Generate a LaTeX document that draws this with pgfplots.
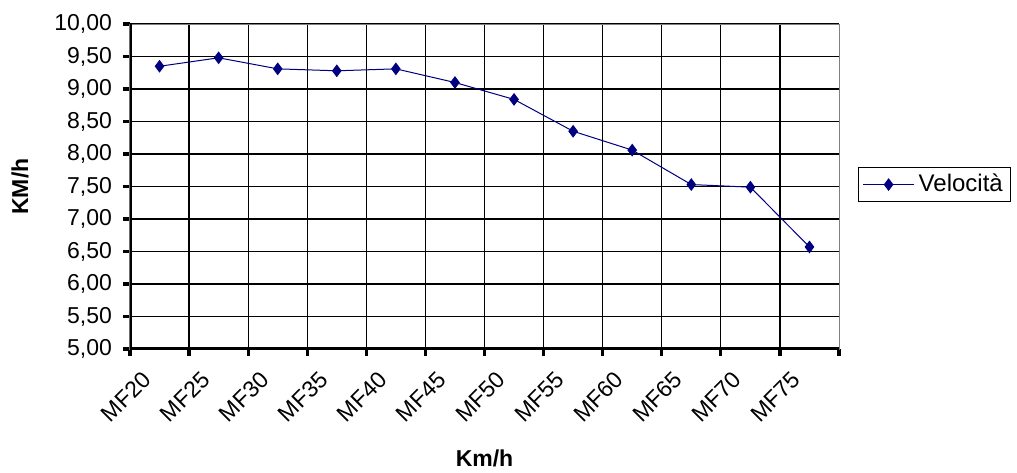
\documentclass[border=0pt]{standalone}
\usepackage{fontspec}
\setmainfont{Liberation Sans}
\usepackage{pgfplots}
\pgfplotsset{compat=1.18}
\definecolor{navy}{RGB}{0,0,128}
\definecolor{framegray}{RGB}{128,128,128}

\begin{document}
\begin{tikzpicture}
\path[use as bounding box] (-65pt,-61.5pt) rectangle (443.5pt,174.5pt);
\begin{axis}[
  at={(0,0)}, anchor=south west,
  scale only axis, width=354.5pt, height=162.5pt,
  xmin=-0.5, xmax=11.5, ymin=5, ymax=10,
  font=\fontsize{11.5}{13}\selectfont,
  axis line style={framegray, line width=0.5pt},
  tick align=outside,
  xtick pos=bottom, ytick pos=left,
  major tick length=3.5pt,
  minor tick length=0pt,
  every tick/.append style={black, line width=1.6pt},
  xtick style={black, line width=1.6pt},
  ytick style={black, line width=1.6pt},
  % category boundaries carry the tick marks
  xtick={-0.5,0.5,...,11.5},
  xticklabels={},
  minor xtick={0.5,1.5,...,10.5},
  xminorgrids=true,
  % category names sit at the centres
  extra x ticks={0,1,...,11},
  extra x tick labels={MF20,MF25,MF30,MF35,MF40,MF45,MF50,MF55,MF60,MF65,MF70,MF75},
  extra x tick style={major tick length=0pt, grid=none},
  xticklabel style={xshift=-4pt, yshift=-11pt, rotate=45, anchor=east, font=\fontsize{11.5}{13}\selectfont},
  ytick={5,5.5,...,10},
  ymajorgrids=true,
  major grid style={black, line width=0.6pt},
  minor grid style={black, line width=0.6pt},
  /pgf/number format/assume math mode=true,
  yticklabel style={xshift=-2pt, /pgf/number format/.cd, fixed, fixed zerofill, precision=2, use comma},
  every axis y label/.style={at={(axis description cs:-0.155,0.5)}, rotate=90, anchor=center, font=\bfseries\fontsize{11.5}{13}\selectfont},
  every axis x label/.style={at={(axis description cs:0.5,-0.338)}, anchor=center, font=\bfseries\fontsize{11.5}{13}\selectfont},
  ylabel={KM/h},
  xlabel={Km/h},
  legend style={at={(1.0268,0.506)}, anchor=west, draw=black, line width=0.5pt, fill=white,
    font=\fontsize{12}{13}\selectfont, inner xsep=2pt, inner ysep=1.5pt},
  legend image code/.code={%
    \draw[mark repeat=2, mark phase=2] plot coordinates {(0cm,0cm) (0.45cm,0cm) (0.9cm,0cm)};},
]
\addplot[navy, line width=0.5pt, mark=diamond*, mark size=2.8pt, mark options={solid, fill=navy}]
  coordinates {
    (0,9.35) (1,9.48) (2,9.31) (3,9.28) (4,9.31) (5,9.10)
    (6,8.84) (7,8.35) (8,8.06) (9,7.53) (10,7.49) (11,6.57)
  };
\addlegendentry{Velocità}
\draw[black, line width=1.6pt] (rel axis cs:0,1) -- (rel axis cs:0,0) -- (rel axis cs:1,0);
\end{axis}
\end{tikzpicture}
\end{document}
